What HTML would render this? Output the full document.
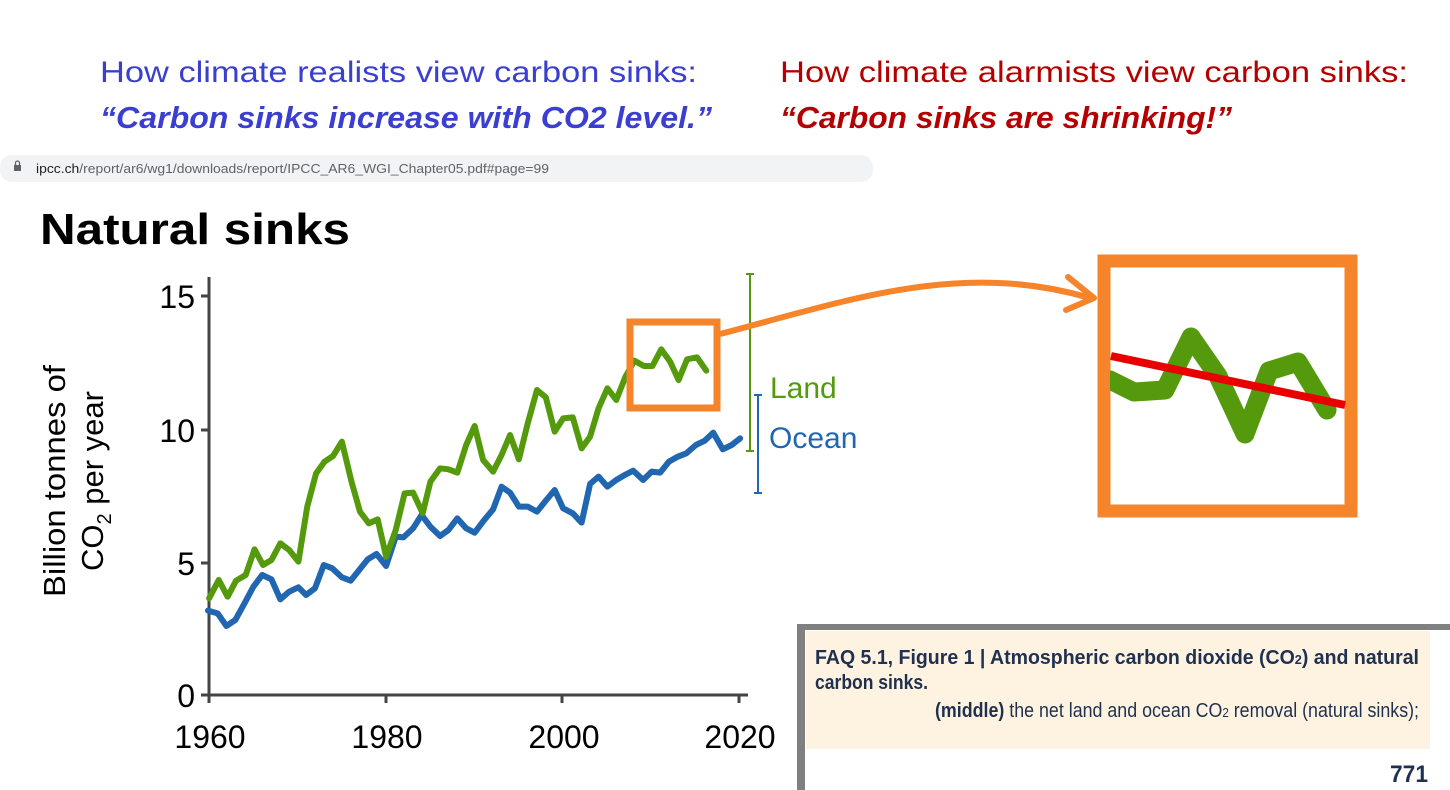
<!DOCTYPE html>
<html><head><meta charset="utf-8"><style>
html,body{margin:0;padding:0;background:#fff;width:1450px;height:790px;overflow:hidden}
svg{display:block;font-family:"Liberation Sans",sans-serif}
</style></head><body>
<svg width="1450" height="790" viewBox="0 0 1450 790" xmlns="http://www.w3.org/2000/svg">
<text x="100" y="82" font-size="30" fill="#3a3fd0" textLength="597" lengthAdjust="spacingAndGlyphs">How climate realists view carbon sinks:</text>
<text x="100" y="128" font-size="31" font-weight="bold" font-style="italic" fill="#3a3fd0" textLength="612" lengthAdjust="spacingAndGlyphs">“Carbon sinks increase with CO2 level.”</text>
<text x="780" y="82" font-size="30" fill="#b40000" textLength="628" lengthAdjust="spacingAndGlyphs">How climate alarmists view carbon sinks:</text>
<text x="780" y="128" font-size="31" font-weight="bold" font-style="italic" fill="#b40000" textLength="452" lengthAdjust="spacingAndGlyphs">“Carbon sinks are shrinking!”</text>

<rect x="0" y="155" width="873" height="27" rx="12" fill="#f1f3f4"/>
<rect x="14" y="165" width="7" height="6" fill="#5f6368"/>
<path d="M15.5,165 v-2 a2,2 0 0 1 4,0 v2" fill="none" stroke="#5f6368" stroke-width="1.3"/>
<text x="36" y="173" font-size="13" fill="#5f6368" textLength="513" lengthAdjust="spacingAndGlyphs"><tspan fill="#202124">ipcc.ch</tspan>/report/ar6/wg1/downloads/report/IPCC_AR6_WGI_Chapter05.pdf#page=99</text>

<text x="40" y="244" font-size="44" font-weight="bold" fill="#000" textLength="310" lengthAdjust="spacingAndGlyphs">Natural sinks</text>

<g stroke="#444" stroke-width="3">
<line x1="209" y1="277" x2="209" y2="697"/>
<line x1="206" y1="695" x2="748" y2="695"/>
<line x1="201" y1="296" x2="209" y2="296"/>
<line x1="201" y1="430" x2="209" y2="430"/>
<line x1="201" y1="563" x2="209" y2="563"/>
<line x1="201" y1="695" x2="209" y2="695"/>
<line x1="209" y1="695" x2="209" y2="703"/>
<line x1="386" y1="695" x2="386" y2="703"/>
<line x1="562" y1="695" x2="562" y2="703"/>
<line x1="739" y1="695" x2="739" y2="703"/>
</g>
<g font-size="32" fill="#000" text-anchor="end">
<text x="195" y="308">15</text><text x="195" y="442">10</text><text x="195" y="575">5</text><text x="195" y="707">0</text>
</g>
<g font-size="32" fill="#000" text-anchor="middle">
<text x="210" y="748">1960</text><text x="387" y="748">1980</text><text x="564" y="748">2000</text><text x="740" y="748">2020</text>
</g>
<text transform="translate(65,481) rotate(-90)" font-size="31" text-anchor="middle" fill="#000" textLength="232" lengthAdjust="spacingAndGlyphs">Billion tonnes of</text>
<text transform="translate(103,481) rotate(-90)" font-size="31" text-anchor="middle" fill="#000">CO<tspan font-size="20" dy="8">2</tspan><tspan dy="-8"> per year</tspan></text>

<g transform="translate(166.8,260) scale(0.3848,0.33333)" fill="none" stroke-linejoin="round" stroke-linecap="round">
<polyline vector-effect="non-scaling-stroke" stroke="#2166b0" stroke-width="6" points="107,1052 132,1060 155,1098 178,1080 202,1030 225,980 248,945 272,958 295,1018 318,995 342,982 362,1005 385,985 408,915 430,925 455,952 478,962 500,930 522,898 545,882 570,918 595,830 615,832 640,805 662,765 685,800 710,828 732,810 755,775 778,805 800,818 825,780 848,748 870,680 892,698 915,740 938,740 962,755 985,722 1008,690 1030,745 1055,760 1078,788 1100,672 1122,650 1145,680 1168,660 1190,645 1212,632 1238,660 1260,635 1282,638 1305,605 1328,590 1350,580 1375,555 1398,542 1420,518 1445,568 1468,555 1490,535"/>
<polyline vector-effect="non-scaling-stroke" stroke="#549a0c" stroke-width="6" points="110,1015 135,960 158,1010 180,962 205,945 228,868 250,915 272,900 295,850 318,870 342,905 365,740 388,640 410,605 432,588 455,545 480,665 502,755 525,790 548,778 570,890 595,810 618,700 640,698 665,760 685,665 710,625 732,628 755,638 778,555 800,498 822,600 848,635 870,585 892,525 915,598 938,490 962,390 985,412 1008,515 1030,475 1055,472 1078,565 1100,530 1122,445 1145,385 1168,420 1192,350 1215,302 1240,318 1262,318 1285,268 1308,305 1330,360 1352,298 1378,292 1402,332"/>
</g>
<g stroke="#549a0c" stroke-width="2"><line x1="750" y1="274" x2="750" y2="451"/><line x1="746" y1="274" x2="754" y2="274"/><line x1="746" y1="451" x2="754" y2="451"/></g>
<g stroke="#2166b0" stroke-width="2"><line x1="758" y1="395" x2="758" y2="493"/><line x1="754" y1="395" x2="762" y2="395"/><line x1="754" y1="493" x2="762" y2="493"/></g>
<text x="770" y="398" font-size="30" fill="#549a0c">Land</text>
<text x="769" y="448" font-size="30" fill="#2166b0">Ocean</text>

<rect x="630" y="322" width="87" height="86" fill="none" stroke="#f5842a" stroke-width="7"/>
<path d="M720,334 C850,300 960,260 1090,298" fill="none" stroke="#f5842a" stroke-width="6"/>
<path d="M1068,277 L1094,298 L1066,310" fill="none" stroke="#f5842a" stroke-width="6" stroke-linecap="round" stroke-linejoin="round"/>

<rect x="1104" y="261" width="247" height="250" fill="#fff" stroke="#f5842a" stroke-width="13"/>
<polyline points="1110,380 1134,392 1165,390 1191,337 1218,376 1245,434 1269,371 1298,362 1327,410" fill="none" stroke="#549a0c" stroke-width="19" stroke-linejoin="round" stroke-linecap="round"/>
<rect x="1098" y="340" width="12" height="80" fill="#f5842a"/>
<line x1="1111" y1="356" x2="1345" y2="405" stroke="#e80000" stroke-width="8"/>

<rect x="797" y="624" width="653" height="6" fill="#808080"/>
<rect x="797" y="624" width="8" height="166" fill="#808080"/>
<rect x="806" y="631" width="624" height="118" fill="#fdf3e0"/>
<g font-size="20" fill="#1f3050">
<text x="815" y="664" font-weight="bold" textLength="604" lengthAdjust="spacingAndGlyphs">FAQ 5.1, Figure 1 | Atmospheric carbon dioxide (CO<tspan font-size="13">2</tspan>) and natural</text>
<text x="815" y="689" font-weight="bold" textLength="113" lengthAdjust="spacingAndGlyphs">carbon sinks.</text>
<text x="935" y="717" textLength="484" lengthAdjust="spacingAndGlyphs"><tspan font-weight="bold">(middle)</tspan> the net land and ocean CO<tspan font-size="13">2</tspan> removal (natural sinks);</text>
<text x="1428" y="782" font-weight="bold" font-size="24" text-anchor="end" textLength="38" lengthAdjust="spacingAndGlyphs">771</text>
</g>
</svg>
</body></html>
